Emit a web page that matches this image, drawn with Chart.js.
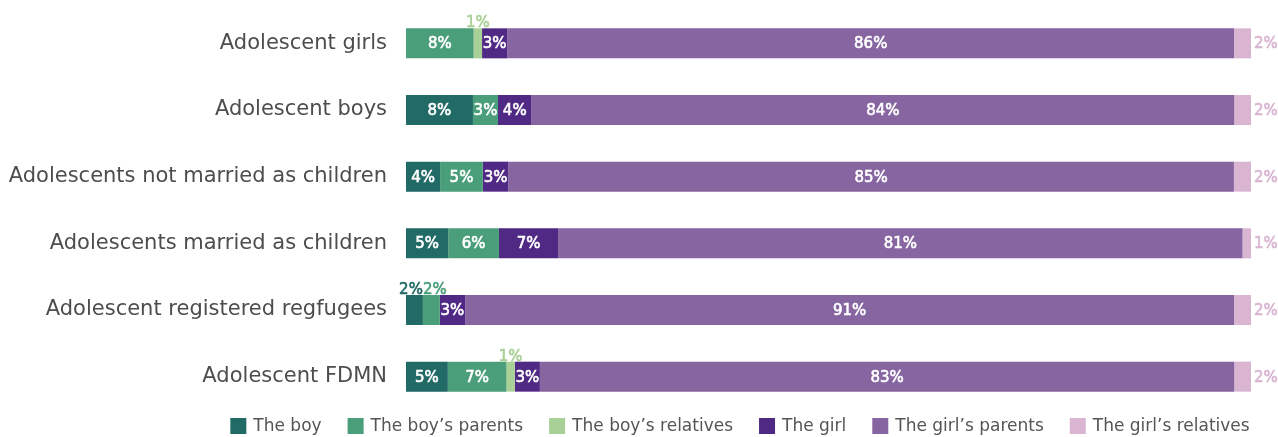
<!DOCTYPE html>
<html>
<head>
<meta charset="utf-8">
<title>Who decides on marriage</title>
<script src="https://cdn.jsdelivr.net/npm/chart.js@4.4.0/dist/chart.umd.min.js"></script>
<style>
  html, body { margin: 0; padding: 0; background: #fff; }
  #wrap { position: relative; width: 1278px; height: 437px; }
</style>
</head>
<body>
<div id="wrap"><canvas id="chart"></canvas></div>
<script>
// Data (percent of respondents per group)
const categories = [
  'Adolescent girls',
  'Adolescent boys',
  'Adolescents not married as children',
  'Adolescents married as children',
  'Adolescent registered regfugees',
  'Adolescent FDMN'
];
const seriesNames = ['The boy', 'The boy\u2019s parents', 'The boy\u2019s relatives', 'The girl', 'The girl\u2019s parents', 'The girl\u2019s relatives'];
const theBoy = [0, 8, 4, 5, 2, 5];
const boysParents = [8, 3, 5, 6, 2, 7];
const boysRelatives = [1, 0, 0, 0, 0, 1];
const theGirl = [3, 4, 3, 7, 3, 3];
const girlsParents = [86, 84, 85, 81, 91, 83];
const girlsRelatives = [2, 2, 2, 1, 2, 2];

const seriesColors = ['#216a66', '#4a9e79', '#a9d096', '#4f2983', '#8665a1', '#dab5d2'];
const FONT = '"DejaVu Sans", "Open Sans", sans-serif';

const allSeries = [theBoy, boysParents, boysRelatives, theGirl, girlsParents, girlsRelatives];

// rounded percentages don't always add to 100, bars are drawn full width
const rowTotals = categories.map((c, i) => allSeries.reduce((s, arr) => s + arr[i], 0));

const datasets = allSeries.map((arr, k) => ({
  label: seriesNames[k],
  data: arr.map((v, i) => v / rowTotals[i] * 100),
  raw: arr,
  backgroundColor: seriesColors[k],
  borderWidth: 0,
  barPercentage: 0.5,
  categoryPercentage: 0.9
}));

// draws text a little heavier than the regular weight
function labelText(ctx, txt, x, y, color) {
  ctx.fillStyle = color;
  ctx.strokeStyle = color;
  ctx.lineWidth = 0.6;
  ctx.fillText(txt, x, y);
  ctx.strokeText(txt, x, y);
}

// value labels: inside (white), above the bar when too narrow, right of bar for the last series
const valueLabels = {
  id: 'valueLabels',
  afterDatasetsDraw(chart) {
    const ctx = chart.ctx;
    ctx.save();
    ctx.font = '15px ' + FONT;
    const above = categories.map(() => []);
    chart.data.datasets.forEach((ds, k) => {
      const meta = chart.getDatasetMeta(k);
      meta.data.forEach((bar, i) => {
        const v = ds.raw[i];
        if (!v) return;
        const p = bar.getProps(['x', 'y', 'base', 'height'], true);
        const w = p.x - p.base;
        const txt = v + '%';
        if (k === chart.data.datasets.length - 1) {
          ctx.textAlign = 'left';
          ctx.textBaseline = 'middle';
          labelText(ctx, txt, p.x + 3, p.y + 1, ds.backgroundColor);
        } else if (w < 20) {
          const tw = ctx.measureText(txt).width;
          above[i].push({ txt, cx: (p.x + p.base) / 2, tw, top: p.y - p.height / 2, color: ds.backgroundColor });
        } else {
          ctx.textAlign = 'center';
          ctx.textBaseline = 'middle';
          labelText(ctx, txt, (p.x + p.base) / 2, p.y + 1, '#fff');
        }
      });
    });
    // push apart labels that sit above the bar and overlap
    above.forEach(list => {
      for (let j = 1; j < list.length; j++) {
        const a = list[j - 1], b = list[j];
        const overlap = (a.cx + a.tw / 2) - (b.cx - b.tw / 2);
        if (overlap > 0) {
          a.cx -= overlap / 2;
          b.cx += overlap / 2;
        }
      }
      list.forEach(l => {
        ctx.textAlign = 'center';
        ctx.textBaseline = 'alphabetic';
        labelText(ctx, l.txt, l.cx, l.top - 1, l.color);
      });
    });
    ctx.restore();
  }
};

// legend row at the bottom
const bottomLegend = {
  id: 'bottomLegend',
  afterDraw(chart) {
    const ctx = chart.ctx;
    ctx.save();
    ctx.font = '17px ' + FONT;
    const box = 16, gap = 7, spacing = 26;
    const widths = chart.data.datasets.map(ds => box + gap + ctx.measureText(ds.label).width);
    const total = widths.reduce((a, b) => a + b, 0) + spacing * (widths.length - 1);
    let x = 740 - total / 2;
    const y = 426;
    chart.data.datasets.forEach((ds, k) => {
      ctx.fillStyle = ds.backgroundColor;
      ctx.fillRect(x, y - box / 2, box, box);
      ctx.fillStyle = '#555';
      ctx.textAlign = 'left';
      ctx.textBaseline = 'middle';
      ctx.fillText(ds.label, x + box + gap, y + 1);
      x += widths[k] + spacing;
    });
    ctx.restore();
  }
};

new Chart(document.getElementById('chart'), {
  type: 'bar',
  data: { labels: categories, datasets },
  options: {
    indexAxis: 'y',
    responsive: true,
    maintainAspectRatio: false,
    animation: false,
    layout: { padding: { top: 10, bottom: 27, right: 27, left: 0 } },
    plugins: {
      legend: { display: false },
      tooltip: { enabled: false }
    },
    scales: {
      x: { stacked: true, min: 0, max: 100, display: false },
      y: {
        stacked: true,
        grid: { display: false, drawTicks: false },
        border: { display: false },
        ticks: { color: '#4d4d4d', font: { family: FONT, size: 21 }, padding: 19 },
        afterFit(axis) {
          axis.width = 406;
          // tick padding would otherwise be added above and below the plot
          axis.paddingTop = 0;
          axis.paddingBottom = 0;
        }
      }
    }
  },
  plugins: [valueLabels, bottomLegend]
});
</script>
</body>
</html>
